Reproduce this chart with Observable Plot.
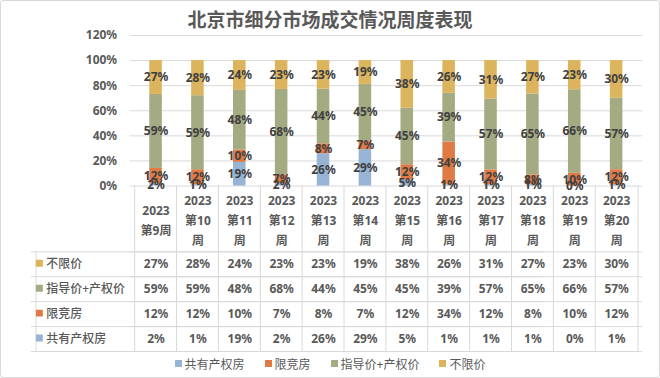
<!DOCTYPE html>
<html>
<head>
<meta charset="utf-8">
<script src="https://cdn.jsdelivr.net/npm/d3@7"></script>
<script src="https://cdn.jsdelivr.net/npm/@observablehq/plot@0.6"></script>
<style>
  body { margin: 0; background: #fff; }
  #wrap { width: 660px; height: 378px; box-sizing: border-box; border: 1px solid #d9d9d9; border-radius: 3px;
          background: #fff; font-family: 'Noto Sans', 'Noto Sans CJK SC', sans-serif; overflow: hidden; }
  #title { height: 30px; box-sizing: border-box; padding-top: 10px; line-height: 19px; font-size: 19px;
           font-weight: bold; color: #595959; text-align: center; }
  #chart svg { display: block; }
  #legend { height: 25px; display: flex; justify-content: center; align-items: center; gap: 20px;
            font-size: 12px; color: #595959; }
  #legend .item { display: flex; align-items: center; }
  #legend .sw { width: 7px; height: 7px; margin-right: 3px; }
</style>
</head>
<body>
<div id="wrap">
  <div id="title">北京市细分市场成交情况周度表现</div>
  <div id="chart"></div>
  <div id="legend"></div>
</div>
<script>
// ---- data ----
const weeks = ["2023第9周","2023第10周","2023第11周","2023第12周","2023第13周","2023第14周",
               "2023第15周","2023第16周","2023第17周","2023第18周","2023第19周","2023第20周"];
const weekLabels = ["2023\n第9周","2023\n第10\n周","2023\n第11\n周","2023\n第12\n周","2023\n第13\n周","2023\n第14\n周",
                    "2023\n第15\n周","2023\n第16\n周","2023\n第17\n周","2023\n第18\n周","2023\n第19\n周","2023\n第20\n周"];
const seriesNames = ["共有产权房","限竞房","指导价+产权价","不限价"];
const seriesColors = ["#98b4d4","#e07b45","#a4ab82","#ddb45e"];
const gongyou  = [2,1,19,2,26,29,5,1,1,1,0,1];
const xianjing = [12,12,10,7,8,7,12,34,12,8,10,12];
const zhidao   = [59,59,48,68,44,45,45,39,57,65,66,57];
const buxian   = [27,28,24,23,23,19,38,26,31,27,23,30];
const yTicks   = [0,20,40,60,80,100,120];

// ---- build ----
const seriesValues = [gongyou, xianjing, zhidao, buxian];
const long = [];
weeks.forEach((w, i) => seriesNames.forEach((s, j) => long.push({week: w, series: s, si: j, value: seriesValues[j][i]})));

// layout (pixels inside the svg)
const W = 660, H = 321, L = 129, R = 643, zeroPx = 155, topPx = 4;
const k = (zeroPx - topPx) / 1.2;
const v = px => (zeroPx - px) / k;
const bw = (R - L) / 12;
const rowTops = [221, 246, 271, 296, 321];
const rowCenter = r => v(rowTops[r] + 12.5);
const grid = "#d9d9d9";
const font = "'Noto Sans','Noto Sans CJK SC',sans-serif";

const chart = Plot.plot({
  width: W, height: H,
  marginLeft: L, marginRight: W - R, marginTop: topPx, marginBottom: 0,
  x: {type: "band", domain: weeks, range: [L, R], padding: 0, axis: null},
  y: {domain: [v(H), 1.2], range: [H, topPx], axis: null},
  color: {domain: seriesNames, range: seriesColors},
  style: {fontFamily: font, fontSize: "12px", background: "transparent", overflow: "visible"},
  marks: [
    Plot.ruleY(yTicks.map(d => d / 100), {stroke: grid}),
    Plot.ruleY(rowTops, {y: d => v(d), stroke: grid}),
    Plot.ruleY(rowTops, {y: d => v(d), stroke: grid, dx: -99}),
    Plot.ruleX(weeks, {x: d => d, dx: -bw / 2, y1: 0, y2: v(H), stroke: grid}),
    Plot.ruleX([weeks[weeks.length - 1]], {x: d => d, dx: bw / 2, y1: 0, y2: v(H), stroke: grid}),
    Plot.ruleX([weeks[0]], {x: d => d, dx: -bw / 2 - 99, y1: v(rowTops[0]), y2: v(H), stroke: grid}),
    Plot.barY(long, Plot.stackY({x: "week", y: "value", fill: "series", offset: "normalize",
      insetLeft: 14.7, insetRight: 14.7})),
    Plot.text(long, Plot.stackY({x: "week", y: "value", offset: "normalize",
      text: d => d.value + "%", fill: "#404040", fontWeight: "bold", fontSize: 12})),
    Plot.text(yTicks, {y: d => d / 100, frameAnchor: "left", dx: -13, textAnchor: "end",
      text: d => d + "%", fill: "#595959", fontWeight: "bold", fontSize: 12}),
    Plot.text(weekLabels, {x: (d, i) => weeks[i], y: v(187.5), text: d => d, lineAnchor: "middle",
      lineHeight: 1.667, fill: "#595959", fontWeight: "bold", fontSize: 12}),
    Plot.text(long, {x: "week", y: d => rowCenter(3 - d.si), text: d => d.value + "%",
      fill: "#595959", fontWeight: "bold", fontSize: 12}),
    Plot.dot(seriesNames, {y: (d, i) => rowCenter(3 - i) + 1 / k, frameAnchor: "left", dx: 38 - L,
      symbol: "square", r: 3.9, fill: (d, i) => seriesColors[i], stroke: null}),
    Plot.text(seriesNames, {y: (d, i) => rowCenter(3 - i), frameAnchor: "left", dx: 45 - L,
      textAnchor: "start", text: d => d, fill: "#595959", fontSize: 12, fontWeight: 500})
  ]
});
document.getElementById("chart").appendChild(chart);

const legend = document.getElementById("legend");
seriesNames.forEach((s, i) => {
  const item = document.createElement("div");
  item.className = "item";
  item.innerHTML = `<span class="sw" style="background:${seriesColors[i]}"></span><span>${s}</span>`;
  legend.appendChild(item);
});
</script>
</body>
</html>
